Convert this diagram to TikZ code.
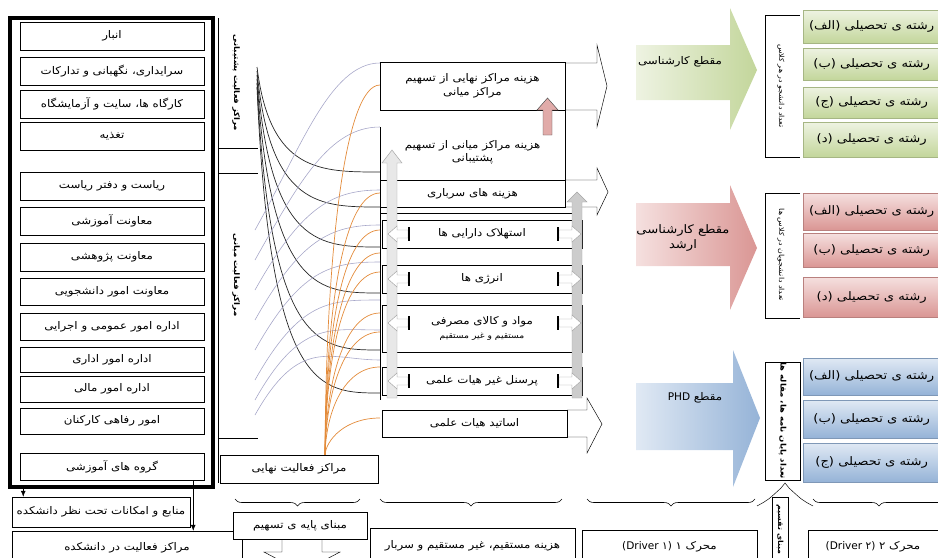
\documentclass[tikz,border=0pt]{standalone}
\usepackage{fontspec}
\newfontfamily\farsi[Script=Arabic,FakeStretch=1.12]{DejaVu Sans}
\newfontfamily\latinsans{DejaVu Sans}
\TeXXeTstate=1
\usetikzlibrary{fit,arrows.meta,decorations.pathreplacing}
\definecolor{grnL}{HTML}{EEF3E2}
\definecolor{grnD}{HTML}{C3D69B}
\definecolor{redL}{HTML}{F5E0DF}
\definecolor{redD}{HTML}{DA9694}
\definecolor{bluL}{HTML}{E0E9F4}
\definecolor{bluD}{HTML}{95B3D7}
\definecolor{curveg}{HTML}{A6A6C8}
\definecolor{curveo}{HTML}{E38B3A}

\begin{document}
\begin{tikzpicture}[x=0.03cm,y=-0.03cm,
cell/.style={rectangle, draw=black, fill=white, inner sep=0pt},
bare/.style={rectangle, inner sep=0pt, align=center, font=\farsi\fontsize{9}{11.5}\selectfont},
side/.style={rotate=-90, inner sep=1pt, font=\farsi\fontsize{6}{7}\selectfont},
course/.style={rectangle, draw=#1D!85!black, top color=#1L, bottom color=#1D, inner sep=0pt},
big/.style={bare, font=\farsi\fontsize{10}{12}\selectfont},
blk/.style={black!85, line width=0.6pt},
gry/.style={curveg, line width=0.5pt},
org/.style={curveo, line width=0.6pt},
brc/.style={decorate, decoration={brace, amplitude=6pt, mirror}, line width=0.5pt},
]
\useasboundingbox (0,0) rectangle (938,558);
\clip (0,0) rectangle (938,558);

%% left column
\node[draw, line width=3pt, fit={(10,18) (213,487)}, inner sep=0pt] (frame) {};
\node[cell, fit={(20,22) (204,50)}, label={[bare]center:{\beginR انبار\endR}}] (anbar) {};
\node[cell, fit={(20,57) (204,85)}, label={[bare]center:{\beginR سرایداری، نگهبانی و تدارکات\endR}}] (saraydari) {};
\node[cell, fit={(20,90) (204,118)}, label={[bare]center:{\beginR کارگاه ها، سایت و آزمایشگاه\endR}}] (kargah) {};
\node[cell, fit={(20,122) (204,150)}, label={[bare]center:{\beginR تغذیه\endR}}] (taghzie) {};
\node[cell, fit={(20,172) (204,200)}, label={[bare]center:{\beginR ریاست و دفتر ریاست\endR}}] (riasat) {};
\node[cell, fit={(20,207) (204,235)}, label={[bare]center:{\beginR معاونت آموزشی\endR}}] (amoozeshi) {};
\node[cell, fit={(20,243) (204,271)}, label={[bare]center:{\beginR معاونت پژوهشی\endR}}] (pajoheshi) {};
\node[cell, fit={(20,278) (204,305)}, label={[bare]center:{\beginR معاونت امور دانشجویی\endR}}] (daneshjoo) {};
\node[cell, fit={(20,313) (204,340)}, label={[bare]center:{\beginR اداره امور عمومی و اجرایی\endR}}] (omoomi) {};
\node[cell, fit={(20,347) (204,372)}, label={[bare]center:{\beginR اداره امور اداری\endR}}] (edari) {};
\node[cell, fit={(20,376) (204,402)}, label={[bare]center:{\beginR اداره امور مالی\endR}}] (mali) {};
\node[cell, fit={(20,408) (204,434)}, label={[bare]center:{\beginR امور رفاهی کارکنان\endR}}] (refahi) {};
\node[cell, fit={(20,453) (204,480)}, label={[bare]center:{\beginR گروه های آموزشی\endR}}] (goroh) {};

\node[cell, fit={(12,497) (190,527)}, label={[bare]center:{\beginR منابع و امکانات تحت نظر دانشکده\endR}}] (manabe) {};
\node[cell, fit={(12,531) (242,562)}, label={[bare, yshift=-1pt]center:{\beginR مراکز فعالیت در دانشکده\endR}}] (markaz) {};
\draw[-{Latex[length=5pt,width=4pt]}] ([xshift=0.45cm]frame.south west) -- ([xshift=0.45cm]frame.south west |- manabe.north);
\draw[-{Latex[length=5pt,width=4pt]}] ([xshift=-0.33cm]goroh.south east) -- ([xshift=-0.33cm]goroh.south east |- markaz.north);

%% group labels
\draw (218,18) -- (218,483);
\draw (218,148) -- (258,148);
\draw (218,173) -- (258,173);
\draw (218,438) -- (258,438);
\node[side, font=\farsi\fontsize{6.5}{7}\bfseries] (poshtibani) at (236,83) {\beginR مراکز فعالیت پشتیبانی\endR};
\node[side, font=\farsi\fontsize{6.5}{7}\bfseries] (mianilbl) at (236,275) {\beginR مراکز فعالیت میانی\endR};

%% curves
\foreach \s/\e in {67/172, 71/207, 75/247, 79/293, 83/350, 87/393}
  \draw[blk] (257,\s) .. controls (270,\e) and (320,\e) .. (380,\e);
\foreach \s/\e in {230/63, 260/127, 290/190, 320/225, 350/262, 380/300, 400/330, 415/360}
  \draw[gry] (255,\s) .. controls (300,\s-80) and (330,\e) .. (380,\e);
\foreach \e/\c in {85/250, 193/300, 230/320, 253/340, 272/350, 313/380, 332/390, 367/410, 418/440}
  \draw[org] (325,455) .. controls (326,\c) and (345,\e) .. (380,\e);

%% cost pools
\node[cell, fit={(380,62) (565,110)}, label={[bare]center:{\beginR هزینه مراکز نهایی از تسهیم\endR\\\beginR مراکز میانی\endR}}] (nahaei) {};
\draw (565,63) -- (597,63) -- (597,45) -- (607,86) -- (597,127) -- (597,110) -- (565,110);
\node[rectangle, fill=white, inner sep=0pt, fit={(381,127) (564,178)}, label={[bare]center:{\beginR هزینه مراکز میانی از تسهیم\endR\\\beginR پشتیبانی\endR}}] (miani) {};
\draw (380,127) -- (380,180);
\draw (565,110) -- (565,180);
\node[cell, fit={(380,180) (565,207)}, label={[bare]center:{\beginR هزینه های سرباری\endR}}] (sarbari) {};
\draw (565,180) -- (597,180) -- (597,168) -- (608,192) -- (597,215) -- (597,207) -- (565,207);
\draw (380,207) -- (380,400);
\draw (380,213) -- (582,213);

\node[cell, fit={(382,220) (582,248)}, label={[bare]center:{\beginR استهلاک دارایی ها\endR}}] (estehlak) {};
\node[cell, fit={(382,265) (582,293)}, label={[bare]center:{\beginR انرژی ها\endR}}] (energy) {};
\node[cell, fit={(382,305) (582,352)}, label={[bare]center:{\beginR مواد و کالای مصرفی\endR\\{\fontsize{7}{9}\selectfont\beginR مستقیم و غیر مستقیم\endR}}}] (mavad) {};
\node[cell, fit={(382,367) (582,395)}, label={[bare]center:{\beginR پرسنل غیر هیات علمی\endR}}] (personel) {};

\filldraw[draw=gray!70, fill=gray!18] (387,398) -- (387,163) -- (382,163) -- (392,150) -- (402,163) -- (397,163) -- (397,398) -- cycle;
\filldraw[draw=gray!70, fill=gray!40] (572,398) -- (572,202) -- (567,202) -- (577,192) -- (587,202) -- (582,202) -- (582,398) -- cycle;
\filldraw[draw=black!70, fill=redD!80] (543,135) -- (543,110) -- (537,110) -- (547.5,98) -- (558,110) -- (552,110) -- (552,135) -- cycle;
\foreach \y in {234,279,323,381} {
  \filldraw[draw=gray!70, fill=white] (408,\y-4) -- (397,\y-4) -- (397,\y-8) -- (388,\y) -- (397,\y+8) -- (397,\y+4) -- (408,\y+4) -- cycle;
  \draw[line width=1.6pt] (409,\y-7) -- (409,\y+7);
  \filldraw[draw=gray!70, fill=white] (559,\y-4) -- (572,\y-4) -- (572,\y-8) -- (581,\y) -- (572,\y+8) -- (572,\y+4) -- (559,\y+4) -- cycle;
  \draw[line width=1.6pt] (558,\y-7) -- (558,\y+7);
}

\node[cell, fit={(382,410) (567,437)}, label={[bare]center:{\beginR اساتید هیات علمی\endR}}] (asatid) {};
\draw (567,410) -- (587,410) -- (587,398) -- (602,424) -- (587,453) -- (587,437) -- (567,437);

\node[cell, fit={(220,455) (378,483)}, label={[bare]center:{\beginR مراکز فعالیت نهایی\endR}}] (nahaeilbl) {};

%% bottom row
\draw[brc] (235,499) -- (360,499);
\draw[brc] (380,499) -- (562,499);
\draw[brc] (587,499) -- (755,499);
\draw[brc] (813,499) -- (945,499);
\draw (757,506) .. controls (768,500) .. (781,488) -- (785,483) -- (789,488) .. controls (802,500) .. (813,506);
\node[cell, fit={(233,512) (367,539)}, label={[bare]center:{\beginR مبنای پایه ی تسهیم\endR}}] (mabna) {};
\draw (282,539) -- (282,552) -- (264,552) -- (302,572) -- (340,552) -- (322,552) -- (322,539);
\node[cell, fit={(370,528) (575,562)}, label={[bare, yshift=-1pt]center:{\beginR هزینه مستقیم، غیر مستقیم و سربار\endR}}] (hazine) {};
\node[cell, fit={(582,530) (757,562)}, label={[bare, yshift=-1pt]center:{\beginR محرک ۱ \beginL{\latinsans(Driver ۱)}\endL\endR}}] (mohrek1) {};
\node[cell, fit={(772,497) (788,562)}] (taghsim) {};
\node[side, font=\farsi\fontsize{6}{7}\bfseries] at (taghsim) {\beginR مبنای تقسیم\endR};
\node[cell, fit={(808,530) (945,562)}, label={[bare, xshift=-3pt, yshift=-1pt]center:{\beginR محرک ۲ \beginL{\latinsans(Driver ۲)}\endL\endR}}] (mohrek2) {};

%% levels
\shade[left color=grnL, right color=grnD] (636,45) -- (730,45) -- (730,8) -- (757,70) -- (730,130) -- (730,100) -- (636,100) -- cycle;
\shade[left color=redL, right color=redD] (636,203) -- (730,203) -- (730,185) -- (757,248) -- (730,310) -- (730,266) -- (636,266) -- cycle;
\shade[left color=bluL, right color=bluD] (636,383) -- (733,383) -- (733,350) -- (760,418) -- (733,487) -- (733,450) -- (636,450) -- cycle;
\node[bare] (karshenasi) at (680,62) {\beginR مقطع کارشناسی\endR};
\node[big] (arshad) at (683,238) {\beginR مقطع کارشناسی\endR\\\beginR ارشد\endR};
\node[bare] (phd) at (695,398) {\beginR مقطع \beginL{\latinsans PHD}\endL\endR};

\draw (800,15) -- (765,15) -- (765,157) -- (800,157);
\node[side] (glbl) at (781,86) {\beginR تعداد دانشجو در هر کلاس\endR};
\draw (800,193) -- (765,193) -- (765,318) -- (800,318);
\node[side] (rlbl) at (781,255) {\beginR تعداد دانشجویان در کلاس ها\endR};
\node[draw, fit={(765,362) (800,480)}, inner sep=0pt] (bbox) {};
\node[side, font=\farsi\fontsize{6.5}{7}\bfseries] (blbl) at (bbox) {\beginR تعداد پایان نامه ها، مقاله ها\endR};

\foreach \t/\b/\l [count=\i] in {10/43/الف, 48/80/ب, 87/118/ج, 122/157/د}
  \node[course=grn, fit={(803,\t) (945,\b)}, label={[big, xshift=-2pt]center:{\beginR رشته ی تحصیلی (\l)\endR}}] (g\i) {};
\foreach \t/\b/\l [count=\i] in {193/230/الف, 233/267/ب, 277/317/د}
  \node[course=red, fit={(803,\t) (945,\b)}, label={[big, xshift=-2pt]center:{\beginR رشته ی تحصیلی (\l)\endR}}] (r\i) {};
\foreach \t/\b/\l [count=\i] in {358/395/الف, 400/438/ب, 443/482/ج}
  \node[course=blu, fit={(803,\t) (945,\b)}, label={[big, xshift=-2pt]center:{\beginR رشته ی تحصیلی (\l)\endR}}] (b\i) {};
\end{tikzpicture}
\end{document}
